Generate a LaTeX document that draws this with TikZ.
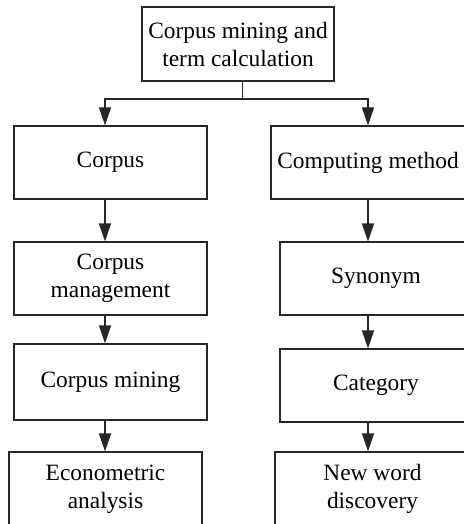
\documentclass[tikz,border=0pt]{standalone}
\usepackage{fontspec}
\setmainfont{Liberation Serif}
\usetikzlibrary{arrows.meta}
\begin{document}
\begin{tikzpicture}[x=0.5pt,y=-0.5pt,
  box/.style={draw=black!85, line width=0.6pt, align=center, inner sep=0pt,
    font=\fontsize{11.7}{14}\selectfont, minimum height=36.5pt},
  arr/.style={draw=black!85, line width=0.6pt, -{Triangle[length=9pt,width=6pt]}},
  ln/.style={draw=black!85, line width=0.6pt}]
\useasboundingbox (0,0) rectangle (464,524);
\clip (0,0) rectangle (464,524);
% top
\node[box, minimum width=96pt, minimum height=37pt] (top) at (238,44) {Corpus mining and\\term calculation};
% left column
\node[box, minimum width=96.5pt] (corpus) at (110.5,162.5) {Corpus};
\node[box, minimum width=96.5pt] (mgmt) at (110.5,278.5) {Corpus\\management};
\node[box, minimum width=96.5pt, minimum height=38pt] (mining) at (110.5,382) {Corpus mining};
\node[box, minimum width=96.5pt, minimum height=37pt] (econ) at (105.5,489) {Econometric\\analysis};
% right column
\node[box, minimum width=97pt] (comp) at (368,162.5) {Computing method};
\node[box, minimum width=96pt] (syn) at (376,278.5) {Synonym};
\node[box, minimum width=96pt, minimum height=36.5pt] (cat) at (376,385.5) {Category};
\node[box, minimum width=97.5pt, minimum height=37pt] (neww) at (372.5,489) {New word\\discovery};
% connectors
\coordinate (split) at (242.7,99);
\coordinate (lx) at (105,99);
\coordinate (rx) at (368,99);
\draw[ln] (top.south -| split) -- (split);
\draw[arr] (split) -- (lx) -- (corpus.north -| lx);
\draw[arr] (split) -- (rx) -- (comp.north -| rx);
\draw[arr] (corpus.south -| lx) -- (mgmt.north -| lx);
\draw[arr] (mgmt.south -| lx) -- (mining.north -| lx);
\draw[arr] (mining.south -| lx) -- (econ.north -| lx);
\draw[arr] (comp.south -| rx) -- (syn.north -| rx);
\draw[arr] (syn.south -| rx) -- (cat.north -| rx);
\draw[arr] (cat.south -| rx) -- (neww.north -| rx);
\end{tikzpicture}
\end{document}
